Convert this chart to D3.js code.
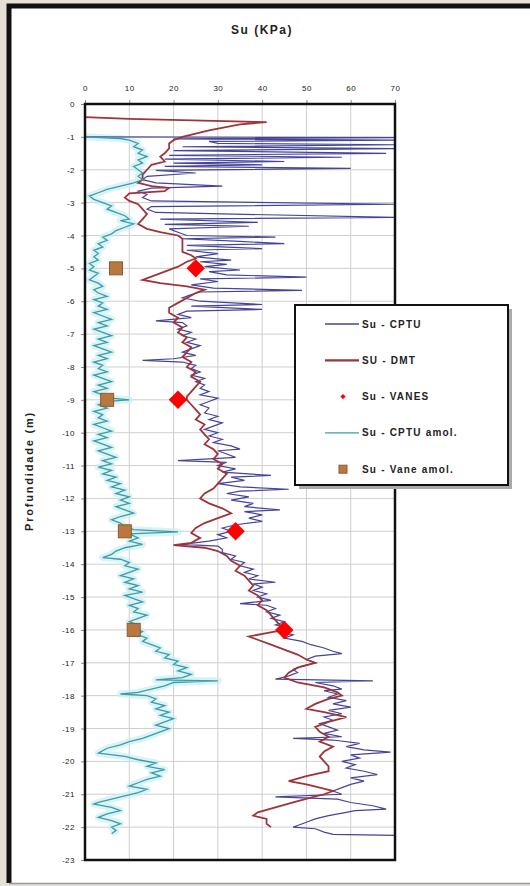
<!DOCTYPE html>
<html>
<head>
<meta charset="utf-8">
<script src="https://cdn.jsdelivr.net/npm/d3@7"></script>
<style>
  body { margin: 0; background: #e6e0d6; }
  svg { display: block; }
  text { font-family: "Liberation Sans", Arial, sans-serif; fill: #222; }
</style>
</head>
<body>
<svg width="530" height="886"></svg>
<script>
// Su (KPa) vs depth (m)
const xTicks = [0, 10, 20, 30, 40, 50, 60, 70];
const yTicks = d3.range(0, -24, -1);

// [depth, su]
const cptu = [[1.00,0],[1.02,70],[1.06,20],[1.10,70],[1.14,28],[1.20,30],[1.24,70],[1.30,22],[1.36,70],[1.42,20],[1.50,68],[1.56,19],[1.62,58],[1.68,18],[1.75,45],[1.80,20],[1.85,40],[1.90,18],[1.96,60],[2.02,16],[2.10,25],[2.20,14],[2.30,13],[2.40,16],[2.50,31],[2.56,15],[2.65,12],[2.75,14],[2.85,13],[2.95,15],[3.05,70],[3.12,15],[3.20,14],[3.30,16],[3.45,70],[3.50,17],[3.60,39],[3.66,18],[3.72,37],[3.80,19],[3.90,21],[4.00,23],[4.05,43],[4.10,22],[4.18,35],[4.25,45],[4.30,23],[4.40,40],[4.45,23],[4.55,30],[4.65,25],[4.75,33],[4.80,26],[4.88,32],[4.95,27],[5.05,35],[5.10,28],[5.20,32],[5.27,50],[5.32,26],[5.40,30],[5.50,24],[5.60,29],[5.67,49],[5.72,26],[5.80,24],[5.90,22],[6.00,26],[6.10,40],[6.15,24],[6.25,40],[6.30,23],[6.40,21],[6.50,24],[6.60,16],[6.65,22],[6.75,23],[6.85,21],[6.95,24],[7.05,22],[7.15,25],[7.25,23],[7.35,26],[7.45,24],[7.55,22],[7.65,25],[7.75,20],[7.80,13],[7.85,22],[7.95,25],[8.05,24],[8.15,26],[8.25,24],[8.35,27],[8.45,25],[8.55,27],[8.65,26],[8.75,28],[8.85,26],[8.95,30],[9.05,28],[9.15,26],[9.25,28],[9.40,27],[9.50,30],[9.60,28],[9.70,31],[9.80,29],[9.90,27],[10.00,30],[10.10,28],[10.20,31],[10.30,29],[10.40,33],[10.50,35],[10.55,30],[10.65,32],[10.75,34],[10.85,21],[10.90,32],[11.00,30],[11.10,34],[11.20,31],[11.30,42],[11.35,33],[11.45,36],[11.55,30],[11.65,35],[11.72,46],[11.78,35],[11.85,32],[11.95,37],[12.05,33],[12.15,38],[12.25,36],[12.35,44],[12.40,36],[12.50,40],[12.60,37],[12.70,40],[12.80,34],[12.90,31],[13.00,33],[13.10,30],[13.20,32],[13.30,28],[13.40,22],[13.45,30],[13.55,31],[13.65,31],[13.75,34],[13.85,33],[13.95,36],[14.05,35],[14.15,38],[14.25,36],[14.35,39],[14.45,37],[14.55,43],[14.60,38],[14.70,40],[14.80,38],[14.90,41],[15.00,39],[15.10,42],[15.20,35],[15.25,41],[15.35,43],[15.45,41],[15.55,44],[15.65,42],[15.75,45],[15.85,43],[15.95,46],[16.05,44],[16.15,47],[16.25,45],[16.35,49],[16.45,51],[16.55,54],[16.65,56],[16.72,58],[16.80,52],[16.90,50],[17.00,52],[17.10,49],[17.20,47],[17.30,48],[17.40,46],[17.50,43],[17.55,65],[17.60,52],[17.70,56],[17.80,58],[17.85,54],[17.95,57],[18.05,55],[18.15,59],[18.25,56],[18.35,60],[18.45,55],[18.55,58],[18.65,54],[18.75,56],[18.85,53],[18.95,55],[19.05,57],[19.15,54],[19.25,58],[19.30,47],[19.35,56],[19.45,62],[19.55,59],[19.65,63],[19.72,69],[19.80,60],[19.90,62],[20.00,58],[20.10,61],[20.20,59],[20.30,63],[20.40,66],[20.50,60],[20.60,63],[20.70,60],[20.80,58],[20.90,56],[21.00,58],[21.08,43],[21.15,57],[21.25,60],[21.35,65],[21.45,68],[21.50,61],[21.55,59],[21.65,55],[21.75,52],[21.85,50],[21.95,48],[22.00,47],[22.05,52],[22.15,54],[22.22,56],[22.25,70]];

const dmt = [[0.40,0],[0.45,10],[0.55,41],[0.62,35],[0.80,28],[1.00,22],[1.10,20],[1.20,19],[1.35,19],[1.50,18],[1.60,17],[1.75,18],[1.85,15],[2.00,14],[2.15,13],[2.30,13],[2.40,12],[2.50,15],[2.55,19],[2.65,18],[2.72,10],[2.85,9],[2.95,10],[3.05,12],[3.20,13],[3.35,14],[3.50,13],[3.65,12],[3.80,14],[3.90,17],[4.00,21],[4.10,22],[4.30,22],[4.50,22],[4.60,24],[4.70,25],[4.80,23],[4.95,21],[5.10,18],[5.25,15],[5.35,13],[5.45,17],[5.55,23],[5.65,27],[5.75,25],[5.90,23],[6.05,21],[6.20,19],[6.35,19],[6.50,21],[6.65,20],[6.80,22],[6.95,21],[7.10,23],[7.25,22],[7.40,24],[7.55,23],[7.70,22],[7.85,24],[8.00,23],[8.15,25],[8.30,24],[8.45,26],[8.60,25],[8.75,24],[8.90,23],[9.00,23],[9.15,24],[9.30,25],[9.45,26],[9.60,25],[9.75,27],[9.90,26],[10.05,27],[10.20,28],[10.35,27],[10.50,29],[10.65,30],[10.80,29],[10.95,31],[11.10,30],[11.25,32],[11.40,31],[11.55,30],[11.70,29],[11.85,27],[12.00,26],[12.15,28],[12.30,31],[12.45,33],[12.60,30],[12.75,27],[12.90,25],[13.05,24],[13.20,26],[13.35,24],[13.42,20],[13.50,27],[13.60,30],[13.75,32],[13.90,33],[14.05,35],[14.20,34],[14.35,36],[14.50,37],[14.65,38],[14.80,37],[14.95,39],[15.10,40],[15.25,39],[15.40,41],[15.55,42],[15.70,43],[15.85,44],[16.00,45],[16.10,41],[16.20,37],[16.30,39],[16.45,42],[16.60,45],[16.75,48],[16.90,50],[17.00,52],[17.15,48],[17.30,46],[17.45,45],[17.60,48],[17.75,54],[17.90,57],[18.00,58],[18.10,55],[18.25,52],[18.40,50],[18.50,54],[18.65,59],[18.80,55],[18.95,52],[19.10,53],[19.25,55],[19.40,53],[19.55,56],[19.70,54],[19.85,53],[20.00,54],[20.15,55],[20.30,55],[20.45,50],[20.60,46],[20.70,50],[20.80,53],[20.90,56],[21.00,54],[21.10,51],[21.25,47],[21.40,43],[21.55,39],[21.65,38],[21.75,41],[21.90,41],[22.00,42]];

const cptuAmol = [[1.00,0],[1.05,8],[1.10,10],[1.20,12],[1.30,11],[1.40,13],[1.50,12],[1.60,14],[1.70,12],[1.80,13],[1.90,11],[2.00,12],[2.10,13],[2.20,12],[2.30,13],[2.40,11],[2.50,8],[2.60,5],[2.70,3],[2.80,1],[2.90,2],[3.00,4],[3.10,6],[3.20,5],[3.30,7],[3.40,9],[3.50,10],[3.55,8],[3.65,11],[3.75,9],[3.85,7],[3.95,6],[4.05,4],[4.15,5],[4.25,3],[4.35,4],[4.45,2],[4.55,3],[4.65,2],[4.75,3],[4.85,1],[4.95,2],[5.05,1],[5.15,3],[5.25,2],[5.35,1],[5.45,3],[5.55,4],[5.65,2],[5.75,3],[5.85,5],[5.95,2],[6.05,4],[6.15,3],[6.25,5],[6.35,2],[6.45,4],[6.55,6],[6.65,3],[6.75,5],[6.85,2],[6.95,4],[7.05,6],[7.15,3],[7.25,5],[7.35,2],[7.45,4],[7.55,6],[7.65,3],[7.75,5],[7.85,2],[7.95,4],[8.05,3],[8.15,5],[8.25,2],[8.35,4],[8.45,6],[8.55,3],[8.65,5],[8.75,2],[8.85,4],[8.95,6],[9.00,10],[9.05,5],[9.15,3],[9.25,5],[9.35,2],[9.45,4],[9.55,3],[9.65,5],[9.75,2],[9.85,4],[9.95,6],[10.05,3],[10.15,5],[10.25,2],[10.35,4],[10.45,6],[10.55,3],[10.65,5],[10.75,7],[10.85,4],[10.95,6],[11.05,3],[11.15,6],[11.25,4],[11.35,7],[11.45,5],[11.55,8],[11.65,6],[11.75,9],[11.85,7],[11.95,10],[12.05,8],[12.15,10],[12.25,7],[12.35,9],[12.45,11],[12.55,8],[12.65,6],[12.75,8],[12.85,9],[12.95,11],[13.02,21],[13.08,10],[13.20,12],[13.30,10],[13.40,13],[13.50,9],[13.60,7],[13.70,6],[13.80,4],[13.85,8],[13.95,10],[14.05,9],[14.15,12],[14.25,10],[14.35,8],[14.45,11],[14.55,9],[14.65,12],[14.75,10],[14.85,13],[14.95,9],[15.05,11],[15.15,13],[15.25,10],[15.35,12],[15.45,11],[15.55,14],[15.65,12],[15.75,10],[15.85,12],[15.95,11],[16.05,13],[16.15,12],[16.25,14],[16.35,13],[16.45,15],[16.55,17],[16.65,16],[16.75,19],[16.85,18],[16.95,21],[17.05,20],[17.15,23],[17.25,21],[17.35,24],[17.45,22],[17.52,16],[17.55,30],[17.60,20],[17.70,18],[17.80,15],[17.90,12],[17.95,8],[18.00,14],[18.10,16],[18.20,15],[18.30,18],[18.40,16],[18.50,19],[18.60,17],[18.70,20],[18.80,18],[18.90,16],[19.00,19],[19.10,17],[19.20,15],[19.30,13],[19.40,10],[19.50,8],[19.60,5],[19.75,3],[19.85,9],[19.95,12],[20.05,16],[20.15,14],[20.25,18],[20.35,15],[20.45,17],[20.55,14],[20.65,12],[20.75,10],[20.85,14],[20.95,12],[21.05,9],[21.15,6],[21.25,3],[21.30,2],[21.40,6],[21.50,8],[21.60,5],[21.70,3],[21.80,6],[21.90,8],[22.00,6],[22.10,7],[22.20,6]];

const vanes = [[5, 25], [9, 21], [13, 34], [16, 45]];
const vaneAmol = [[5, 7], [9, 5], [13, 9], [16, 11]];

const legendNames = ['Su - CPTU', 'SU - DMT', 'Su - VANES', 'Su - CPTU amol.', 'Su - Vane amol.'];

const cCptu = '#45449a', cDmt = '#9e3438', cVane = '#ff0000', cAmol = '#3b9ca8', cSq = '#b9783f';

const svg = d3.select('svg');

// frame like the screenshot
svg.append('rect').attr('x', 9).attr('y', 6).attr('width', 540).attr('height', 877)
  .attr('fill', '#fff');
svg.append('path').attr('d', 'M9,883 V6 H530').attr('fill', 'none')
  .attr('stroke', '#111').attr('stroke-width', 5);
svg.append('line').attr('x1', 9).attr('x2', 530).attr('y1', 883.5).attr('y2', 883.5)
  .attr('stroke', '#999').attr('stroke-width', 1.5);

const x = d3.scaleLinear().domain([0, 70]).range([85, 395]);
const y = d3.scaleLinear().domain([0, -23]).range([104, 860]);

// grid
svg.append('g').selectAll('line').data(xTicks.slice(1, -1)).join('line')
  .attr('x1', d => x(d)).attr('x2', d => x(d)).attr('y1', y(0)).attr('y2', y(-23))
  .attr('stroke', '#cfcfcf');
svg.append('g').selectAll('line').data(yTicks.slice(1, -1)).join('line')
  .attr('y1', d => y(d)).attr('y2', d => y(d)).attr('x1', x(0)).attr('x2', x(70))
  .attr('stroke', '#cfcfcf');

// axes
const xAxis = svg.append('g').attr('transform', `translate(0,${y(0)})`)
  .call(d3.axisTop(x).tickValues(xTicks).tickSize(4).tickPadding(9));
const yAxis = svg.append('g').attr('transform', `translate(${x(0)},0)`)
  .call(d3.axisLeft(y).tickValues(yTicks).tickSize(4).tickPadding(6).tickFormat(d => d));
[xAxis, yAxis].forEach(a => {
  a.select('.domain').remove();
  a.selectAll('text').attr('font-size', 8).attr('font-family', '"Liberation Sans", Arial')
    .attr('fill', '#333').attr('letter-spacing', 0.5);
  a.selectAll('line').attr('stroke', '#888');
});

svg.append('defs').append('clipPath').attr('id', 'plot').append('rect')
  .attr('x', x(0)).attr('y', y(0)).attr('width', x(70) - x(0)).attr('height', y(-23) - y(0));

const line = d3.line().x(d => x(d[1])).y(d => y(-d[0]));
const plot = svg.append('g').attr('clip-path', 'url(#plot)');

plot.append('path').datum(cptuAmol).attr('d', line).attr('fill', 'none')
  .attr('stroke', '#c9eef2').attr('stroke-width', 7).attr('stroke-linejoin', 'round').attr('opacity', 0.7);
plot.append('path').datum(cptu).attr('d', line).attr('fill', 'none')
  .attr('stroke', cCptu).attr('stroke-width', 1.2);
plot.append('path').datum(dmt).attr('d', line).attr('fill', 'none')
  .attr('stroke', cDmt).attr('stroke-width', 1.8);
plot.append('path').datum(cptuAmol).attr('d', line).attr('fill', 'none')
  .attr('stroke', cAmol).attr('stroke-width', 1.3);

const diamond = d3.symbol(d3.symbolSquare, 170);
plot.selectAll('.vane').data(vanes).join('path')
  .attr('transform', d => `translate(${x(d[1])},${y(-d[0])}) rotate(45)`)
  .attr('d', diamond).attr('fill', cVane);
plot.selectAll('.sq').data(vaneAmol).join('rect')
  .attr('x', d => x(d[1]) - 6.5).attr('y', d => y(-d[0]) - 6.5)
  .attr('width', 13).attr('height', 13)
  .attr('fill', cSq).attr('stroke', '#8d5a32').attr('stroke-width', 1);

// plot border
svg.append('rect').attr('x', x(0)).attr('y', y(0)).attr('width', x(70) - x(0))
  .attr('height', y(-23) - y(0)).attr('fill', 'none').attr('stroke', '#111').attr('stroke-width', 2.5);

// titles
svg.append('text').attr('x', 262).attr('y', 34).attr('text-anchor', 'middle')
  .attr('font-size', 12).attr('font-weight', 'bold').attr('letter-spacing', 1.5).text('Su (KPa)');
svg.append('text').attr('transform', 'translate(33,471) rotate(-90)').attr('text-anchor', 'middle')
  .attr('font-size', 11).attr('font-weight', 'bold').attr('letter-spacing', 1.8).text('Profundidade (m)');

// legend
const lg = svg.append('g');
lg.append('rect').attr('x', 299).attr('y', 309).attr('width', 213).attr('height', 180).attr('fill', '#aaa');
lg.append('rect').attr('x', 295).attr('y', 305).attr('width', 213).attr('height', 180)
  .attr('fill', '#fff').attr('stroke', '#111').attr('stroke-width', 2);
const rows = lg.selectAll('g.row').data(legendNames).join('g')
  .attr('transform', (d, i) => `translate(0,${324 + i * 36.3})`);
rows.append('text').attr('x', 362).attr('y', 3.5).attr('font-size', 10).attr('font-weight', 'bold')
  .attr('fill', '#333').attr('letter-spacing', 1.2).text(d => d);
rows.each(function (d, i) {
  const g = d3.select(this);
  if (i === 0 || i === 1 || i === 3) {
    g.append('line').attr('x1', 325).attr('x2', 359).attr('y1', 0).attr('y2', 0)
      .attr('stroke', [cCptu, cDmt, null, cAmol][i]).attr('stroke-width', i === 1 ? 2.2 : 1.3);
  } else if (i === 2) {
    g.append('path').attr('transform', 'translate(343,0) rotate(45)')
      .attr('d', d3.symbol(d3.symbolSquare, 14)()).attr('fill', cVane);
  } else {
    g.append('rect').attr('x', 339).attr('y', -4).attr('width', 8).attr('height', 8)
      .attr('fill', cSq).attr('stroke', '#8d5a32');
  }
});
</script>
</body>
</html>
